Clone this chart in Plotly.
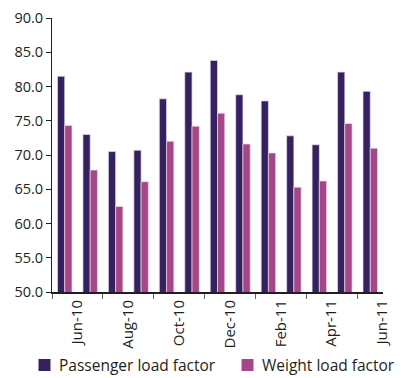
import plotly.graph_objects as go

# Monthly load factors (%), June 2010 - June 2011
months = ["Jun-10", "Jul-10", "Aug-10", "Sep-10", "Oct-10", "Nov-10", "Dec-10",
          "Jan-11", "Feb-11", "Mar-11", "Apr-11", "May-11", "Jun-11"]
passenger_load = [81.5, 73.0, 70.5, 70.7, 78.2, 82.1, 83.8, 78.8, 77.9, 72.8, 71.5, 82.1, 79.3]
weight_load = [74.3, 67.8, 62.5, 66.1, 72.0, 74.2, 76.1, 71.6, 70.3, 65.3, 66.2, 74.6, 71.0]

PURPLE = "#36215f"
MAGENTA = "#a54689"
INK = "#231f20"
FONT = "Open Sans"

W, H = 401, 378
M = dict(l=52, r=18, t=18, b=86)
plot_w = W - M["l"] - M["r"]
plot_h = H - M["t"] - M["b"]


def px_to_paper(px, py):
    """Convert page pixels to paper coordinates of the plot area."""
    return (px - M["l"]) / plot_w, (H - M["b"] - py) / plot_h


idx = list(range(len(months)))
labelled = idx[::2]

series = [
    ("Passenger load factor", passenger_load, PURPLE, "rgba(230,220,240,0.9)"),
    ("Weight load factor", weight_load, MAGENTA, "rgba(240,215,235,0.9)"),
]

fig = go.Figure()
for name, values, color, edge in series:
    fig.add_trace(go.Bar(
        x=idx, y=values, name=name,
        marker=dict(color=color, line=dict(color=edge, width=0.8)),
    ))

# Legend drawn below the axis: a colour swatch followed by the series name
legend_left = [38.5, 241.5]
legend_mid = 365
swatch = 12
for (name, _, color, _), left in zip(series, legend_left):
    x0, y0 = px_to_paper(left, legend_mid + swatch / 2)
    x1, y1 = px_to_paper(left + swatch, legend_mid - swatch / 2)
    fig.add_shape(type="rect", xref="paper", yref="paper",
                  x0=x0, y0=y0, x1=x1, y1=y1,
                  fillcolor=color, line=dict(width=0))
    tx, ty = px_to_paper(left + swatch + 6, legend_mid)
    fig.add_annotation(xref="paper", yref="paper", x=tx, y=ty,
                       xanchor="left", yanchor="middle", showarrow=False,
                       text=name, font=dict(size=15.5, color=INK))

fig.update_layout(
    width=W, height=H,
    margin=dict(**M, autoexpand=False),
    paper_bgcolor="white", plot_bgcolor="white",
    barmode="group", bargap=0.43, bargroupgap=0,
    font=dict(family=FONT, size=15, color=INK),
    showlegend=False,
)

fig.update_xaxes(
    range=[-0.5, 12.5],
    tickmode="array",
    tickvals=[i + 0.48 for i in labelled],
    ticktext=[months[i] for i in labelled],
    tickangle=-90, ticks="", ticklen=0,
    tickfont=dict(size=15, color=INK),
    showline=True, linecolor=INK, linewidth=2,
    showgrid=False, zeroline=False,
    minor=dict(
        tickmode="array",
        tickvals=[i - 0.5 for i in labelled],
        ticks="outside", ticklen=5, tickcolor="#666", tickwidth=1,
        showgrid=False,
    ),
)

fig.update_yaxes(
    range=[50, 90], dtick=5, tickformat=".1f",
    ticks="outside", ticklen=5, tickcolor=INK, tickwidth=1,
    tickfont=dict(size=14.5, color=INK),
    showline=True, linecolor=INK, linewidth=1,
    showgrid=False, zeroline=False,
)

fig.write_html("out.html")
